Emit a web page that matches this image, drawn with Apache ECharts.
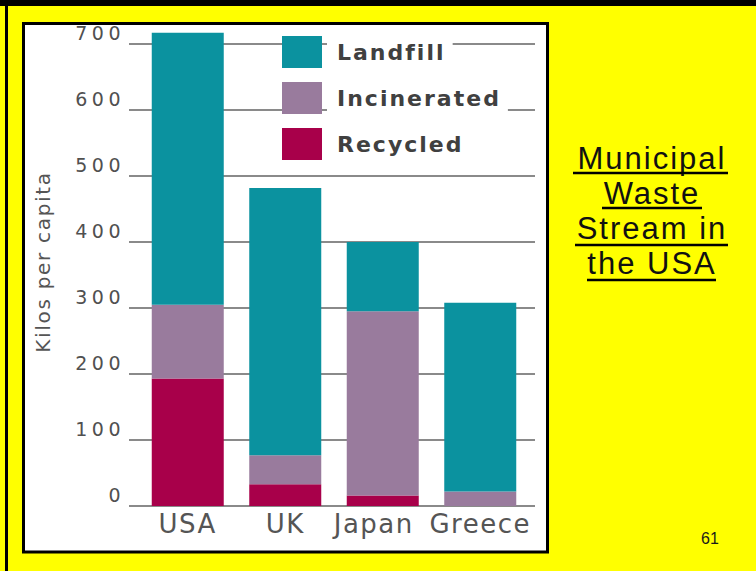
<!DOCTYPE html>
<html>
<head>
<meta charset="utf-8">
<title>Municipal Waste Stream</title>
<script src="https://cdn.jsdelivr.net/npm/echarts@6/dist/echarts.min.js"></script>
<style>
  html, body { margin: 0; padding: 0; background: #ffff00; }
  #chart { width: 756px; height: 571px; }
  /* wide lettering for the chart texts (SVG renderer) */
  #chart text[style*="19px"] { letter-spacing: 4.5px; }
  #chart text[style*="26px"] { letter-spacing: 1.5px; }
  #chart text[style*="22px"] { letter-spacing: 2px; }
  #chart text[style*="20px"] { letter-spacing: 1.7px; }
  #chart text[style*="31px"] { letter-spacing: 2px; }
</style>
</head>
<body>
<div id="chart"></div>
<script>
// Countries on the category axis
const categories = ['USA', 'UK', 'Japan', 'Greece'];

// Kilos per capita, one array per waste stream (stacked bottom to top)
const recycled = [193, 33, 16, 0];
const incinerated = [112, 44, 279, 22];
const landfill = [412, 405, 105, 286];

// Value axis ticks
const yMin = 0;
const yMax = 700;
const yStep = 100;

// Series names in stacking order and in legend order
const seriesNames = ['Recycled', 'Incinerated', 'Landfill'];
const legendOrder = ['Landfill', 'Incinerated', 'Recycled'];

// Slide heading, one line per entry
const titleLines = ['Municipal', 'Waste', 'Stream in', 'the USA'];
const pageNumber = '61';

const seriesData = [recycled, incinerated, landfill];
const seriesColors = ['#a8004a', '#997b9d', '#0b929f'];
const gridColor = '#8a8a8a';
const labelFont = 'DejaVu Sans';

// room kept after each legend label so the white backing hides the grid lines
const legendPadRight = [24, 29, 20];

const titleY = [158, 193, 228, 263];
const underlines = [[573, 728, 173], [602, 702, 208], [575, 728, 245], [587, 716, 280]];

const graphics = [
  // slide frame
  { type: 'rect', z: -20, shape: { x: 0, y: 0, width: 756, height: 6 }, style: { fill: '#000' } },
  { type: 'rect', z: -20, shape: { x: 5, y: 0, width: 3, height: 571 }, style: { fill: '#000' } },
  // white chart panel with black border
  { type: 'rect', z: -20, shape: { x: 23.5, y: 23.5, width: 524, height: 528.5 },
    style: { fill: '#ffffff', stroke: '#000', lineWidth: 3 } },
  // page number
  { type: 'text', x: 710, y: 538,
    style: { text: pageNumber, font: '16px "Liberation Sans"', fill: '#1a1a1a',
             align: 'center', verticalAlign: 'middle', textAlign: 'center', textVerticalAlign: 'middle' } }
];

titleLines.forEach((line, i) => {
  graphics.push({
    type: 'text', x: 652, y: titleY[i],
    style: { text: line, font: '31px "Liberation Sans"', fill: '#111',
             align: 'center', verticalAlign: 'middle', textAlign: 'center', textVerticalAlign: 'middle' }
  });
  const u = underlines[i];
  graphics.push({
    type: 'line', shape: { x1: u[0], y1: u[2], x2: u[1], y2: u[2] },
    style: { stroke: '#000', lineWidth: 2.5 }
  });
});

const chart = echarts.init(document.getElementById('chart'), null, { renderer: 'svg' });

chart.setOption({
  backgroundColor: '#ffff00',
  animation: false,
  grid: { left: 139, top: 44, width: 390, height: 462 },
  legend: {
    orient: 'vertical',
    left: 282,
    top: 35,
    padding: 0,
    itemWidth: 40,
    itemHeight: 32,
    itemGap: 12,
    icon: 'rect',
    selectedMode: false,
    data: legendOrder.map((name, i) => ({
      name: name,
      textStyle: { padding: [6, legendPadRight[i], 6, 10] }
    })),
    textStyle: {
      fontFamily: labelFont, fontSize: 22, fontWeight: 'bold',
      color: '#404040', backgroundColor: '#ffffff'
    }
  },
  xAxis: {
    type: 'category',
    data: categories,
    axisTick: { show: false },
    axisLine: { lineStyle: { color: gridColor, width: 2 } },
    axisLabel: {
      interval: 0, margin: 5, fontFamily: labelFont, fontSize: 26, color: '#555',
      // the Japan label sits a little left of its bar
      formatter: (v) => (v === 'Japan' ? '{shift|' + v + '}' : v),
      rich: { shift: { fontFamily: labelFont, fontSize: 26, color: '#555', padding: [0, 18, 0, 0] } }
    }
  },
  yAxis: [
    {
      type: 'value',
      min: yMin,
      max: yMax,
      interval: yStep,
      name: 'Kilos per capita',
      nameLocation: 'middle',
      nameRotate: 90,
      nameGap: 86,
      nameTextStyle: { fontFamily: labelFont, fontSize: 20, color: '#555', padding: [0, 0, 0, 26] },
      axisLine: { show: false },
      axisTick: { show: true, length: 10, lineStyle: { color: gridColor, width: 2 } },
      axisLabel: {
        margin: 14, fontFamily: labelFont, fontSize: 19,
        color: '#505050', verticalAlign: 'bottom', lineHeight: 22
      },
      splitLine: { lineStyle: { color: gridColor, width: 2 } }
    },
    {
      type: 'value',
      position: 'right',
      min: yMin,
      max: yMax,
      interval: yStep,
      axisLine: { show: false },
      axisTick: { show: true, length: 6, lineStyle: { color: gridColor, width: 2 } },
      axisLabel: { show: false },
      splitLine: { show: false }
    }
  ],
  series: seriesNames.map((name, i) => ({
    name: name,
    type: 'bar',
    stack: 'waste',
    barWidth: 72,
    clip: false,
    data: seriesData[i],
    itemStyle: { color: seriesColors[i] }
  })),
  graphic: graphics
});
</script>
</body>
</html>
